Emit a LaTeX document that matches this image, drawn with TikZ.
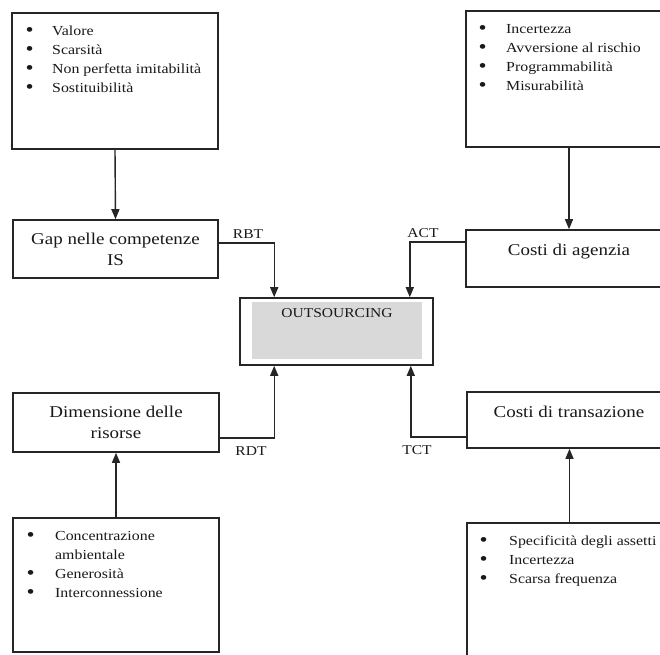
\documentclass[tikz,border=0pt]{standalone}
\usepackage{fontspec}
\setmainfont{Liberation Serif}[FakeStretch=1.15]
\usetikzlibrary{arrows.meta,calc}
\newcommand{\bul}{\raisebox{-0.8pt}{\scalebox{1.45}{\textbullet}}}
\tikzset{
  box/.style={draw=black!85, line width=1.6pt, rectangle, inner sep=0pt},
  title/.style={font=\fontsize{16.5}{21}\selectfont, text=black!90, align=center, inner sep=0pt},
  listtext/.style={font=\fontsize{13.8}{19}\selectfont, text=black!90, inner sep=0pt, anchor=base west},
  lbl/.style={font=\fontsize{13.5}{16}\selectfont, text=black!90, inner sep=0pt},
  conn/.style={draw=black!85, line width=1.4pt, -{Triangle[length=10pt,width=8pt]}}
}
\begin{document}
\begin{tikzpicture}[x=1pt,y=-1pt]
\clip (0,0) rectangle (660,654);
\fill[white] (0,0) rectangle (660,654);
% boxes
\node[box, minimum width=206pt, minimum height=136pt] (A) at (115,81) {};
\node[box, title, minimum width=205pt, minimum height=58pt] (G) at (115.5,249) {Gap nelle competenze\\IS};
\node[box, minimum width=206pt, minimum height=136pt] (B) at (569,79) {};
\node[box, minimum width=206pt, minimum height=57pt] (K) at (569,258.5) {};
\node[box, minimum width=193pt, minimum height=67pt] (O) at (336.5,331.5) {};
\fill[gray!30] ($(O.north west)+(13,5)$) rectangle ($(O.south east)+(-12,-7)$);
\node[box, title, minimum width=206pt, minimum height=59pt] (R) at (116,422.5) {Dimensione delle\\risorse};
\node[box, minimum width=205pt, minimum height=56pt] (T) at (569.5,420) {};
\node[box, minimum width=206pt, minimum height=134pt] (C) at (116,585) {};
\node[box, minimum width=205pt, minimum height=177pt] (D) at (569.5,611.5) {};
% texts
\node[title] (Kt) at (569,251.5) {Costi di agenzia};
\node[title] (Tt) at (569,412) {Costi di transazione};
\node[lbl] (Ot) at (337,313) {OUTSOURCING};
\node[listtext] (Al) at (25.5,35.5) {\begin{tabular}[t]{@{}p{26.5pt}@{}l@{}}\bul&Valore\\\bul&Scarsità\\\bul&Non perfetta imitabilità\\\bul&Sostituibilità\end{tabular}};
\node[listtext] (Bl) at (478.5,33.5) {\begin{tabular}[t]{@{}p{27.5pt}@{}l@{}}\bul&Incertezza\\\bul&Avversione al rischio\\\bul&Programmabilità\\\bul&Misurabilità\end{tabular}};
\node[listtext] (Cl) at (26.5,540.5) {\begin{tabular}[t]{@{}p{28.5pt}@{}l@{}}\bul&Concentrazione\\&ambientale\\\bul&Generosità\\\bul&Interconnessione\end{tabular}};
\node[listtext] (Dl) at (479.5,545.5) {\begin{tabular}[t]{@{}p{29.5pt}@{}l@{}}\bul&Specificità degli assetti\\\bul&Incertezza\\\bul&Scarsa frequenza\end{tabular}};
% connectors
\draw[conn] (A.south) -- (G.north);
\draw[conn] (B.south) -- (K.north);
\draw[conn] (C.north) -- (R.south);
\draw[conn] (D.north) -- (T.south);
\draw[conn] ($(G.east)+(0,-6)$) -| ($(O.north west)+(35,0)$);
\draw[conn] ($(K.west)+(0,-16.5)$) -| ($(O.north east)+(-24,0)$);
\draw[conn] ($(R.east)+(0,15.5)$) -| ($(O.south west)+(35,0)$);
\draw[conn] ($(T.west)+(0,17)$) -| ($(O.south east)+(-23,0)$);
% connector labels
\node[lbl] (rbt) at (248,234) {RBT};
\node[lbl] (act) at (423,233) {ACT};
\node[lbl] (rdt) at (251,451) {RDT};
\node[lbl] (tct) at (417,450) {TCT};
\end{tikzpicture}
\end{document}
